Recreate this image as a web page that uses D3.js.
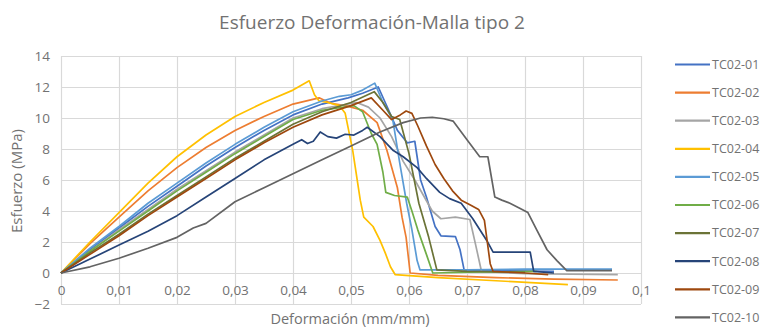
<!DOCTYPE html>
<html>
<head>
<meta charset="utf-8">
<script src="https://d3js.org/d3.v7.min.js"></script>
<style>
  html, body { margin: 0; padding: 0; background: #ffffff; }
  svg { display: block; font-family: "Open Sans", "Noto Sans", sans-serif; }
</style>
</head>
<body>
<script>
// Stress–strain curves, mesh type 2 specimens (strain mm/mm, stress MPa)
const seriesNames = ["TC02-01", "TC02-02", "TC02-03", "TC02-04", "TC02-05",
                     "TC02-06", "TC02-07", "TC02-08", "TC02-09", "TC02-10"];
const seriesColors = ["#4472C4", "#ED7D31", "#A5A5A5", "#FFC000", "#5B9BD5",
                      "#70AD47", "#6B7337", "#264478", "#9E480E", "#636363"];

const tc0201 = [[0,0],[0.005,1.5],[0.01,2.9],[0.015,4.3],[0.02,5.6],[0.025,6.9],[0.03,8.1],[0.035,9.2],[0.04,10.2],[0.045,10.9],[0.0495,11.3],[0.052,11.6],[0.0547,12.0],[0.0565,10.5],[0.058,9.2],[0.0597,8.4],[0.061,8.5],[0.062,6.0],[0.063,4.9],[0.0645,3.0],[0.0655,2.4],[0.068,2.35],[0.0688,1.5],[0.0695,0.2],[0.075,0.15],[0.085,0.1]];
const tc0202 = [[0,0],[0.005,1.9],[0.01,3.6],[0.015,5.3],[0.02,6.8],[0.025,8.1],[0.03,9.2],[0.035,10.1],[0.04,10.9],[0.0445,11.3],[0.0465,10.95],[0.049,10.8],[0.052,10.5],[0.0545,9.7],[0.0562,7.9],[0.058,5.5],[0.0588,3.6],[0.0595,2.3],[0.0602,0.0],[0.065,-0.15],[0.075,-0.3],[0.085,-0.4],[0.096,-0.45]];
const tc0203 = [[0,0],[0.005,1.4],[0.01,2.8],[0.015,4.1],[0.02,5.4],[0.025,6.6],[0.03,7.8],[0.035,8.9],[0.04,10.0],[0.045,10.6],[0.051,11.0],[0.053,10.7],[0.055,10.0],[0.057,8.8],[0.059,7.2],[0.061,6.0],[0.0625,5.0],[0.064,4.0],[0.0655,3.5],[0.068,3.6],[0.0705,3.45],[0.0715,1.8],[0.0725,0.1],[0.08,-0.05],[0.096,-0.1]];
const tc0204 = [[0,0],[0.005,2.0],[0.01,3.9],[0.015,5.8],[0.02,7.5],[0.025,8.9],[0.03,10.1],[0.035,11.0],[0.04,11.8],[0.0428,12.4],[0.0437,11.5],[0.0445,11.1],[0.046,11.0],[0.048,10.8],[0.049,10.3],[0.0503,7.9],[0.0516,4.7],[0.0522,3.6],[0.0538,3.0],[0.055,2.1],[0.0559,1.3],[0.0568,0.4],[0.0576,-0.1],[0.065,-0.3],[0.075,-0.5],[0.0874,-0.75]];
const tc0205 = [[0,0],[0.005,1.6],[0.01,3.0],[0.015,4.5],[0.02,5.8],[0.025,7.1],[0.03,8.3],[0.035,9.4],[0.04,10.4],[0.045,11.1],[0.048,11.4],[0.05,11.5],[0.052,11.8],[0.0541,12.25],[0.0555,11.0],[0.0572,9.9],[0.0584,7.1],[0.0596,4.5],[0.0605,2.8],[0.0614,0.8],[0.0619,0.2],[0.07,0.2],[0.08,0.25],[0.095,0.25]];
const tc0206 = [[0,0],[0.005,1.4],[0.01,2.7],[0.015,4.0],[0.02,5.3],[0.025,6.5],[0.03,7.7],[0.035,8.8],[0.04,9.9],[0.045,10.5],[0.0505,10.8],[0.052,10.4],[0.0535,9.0],[0.0545,8.3],[0.0555,6.5],[0.056,5.2],[0.0575,5.0],[0.0597,4.9],[0.0605,4.0],[0.0615,2.8],[0.063,1.2],[0.0641,0.0],[0.07,0.05],[0.082,0.1]];
const tc0207 = [[0,0],[0.005,1.3],[0.01,2.5],[0.015,3.8],[0.02,5.0],[0.025,6.2],[0.03,7.4],[0.035,8.5],[0.04,9.6],[0.045,10.4],[0.05,11.0],[0.054,11.7],[0.0555,11.0],[0.057,10.1],[0.0584,9.9],[0.06,7.7],[0.0617,4.5],[0.0634,2.3],[0.0648,0.2],[0.07,0.1],[0.08,0.05]];
const tc0208 = [[0,0],[0.005,0.9],[0.01,1.8],[0.015,2.7],[0.02,3.7],[0.025,4.9],[0.03,6.1],[0.035,7.3],[0.04,8.3],[0.0415,8.6],[0.0425,8.35],[0.0435,8.5],[0.0447,9.1],[0.046,8.8],[0.0475,8.7],[0.049,8.95],[0.0505,8.9],[0.052,9.2],[0.0528,9.4],[0.055,8.8],[0.0573,7.9],[0.059,7.5],[0.0614,6.8],[0.063,6.1],[0.0653,5.2],[0.067,4.8],[0.069,4.5],[0.071,3.5],[0.0734,2.1],[0.0745,1.35],[0.0809,1.35],[0.0815,0.1],[0.085,0.0]];
const tc0209 = [[0,0],[0.005,1.2],[0.01,2.4],[0.015,3.7],[0.02,4.9],[0.025,6.1],[0.03,7.3],[0.035,8.4],[0.04,9.4],[0.045,10.2],[0.05,10.8],[0.0535,11.3],[0.0555,10.5],[0.057,9.9],[0.0585,10.2],[0.0595,10.45],[0.0605,10.3],[0.0615,9.5],[0.063,8.2],[0.0645,7.0],[0.066,6.1],[0.0675,5.3],[0.069,4.7],[0.0705,4.4],[0.072,4.1],[0.073,3.4],[0.0735,2.0],[0.074,0.6],[0.0745,0.1],[0.08,0.0],[0.084,-0.1]];
const tc0210 = [[0,0],[0.005,0.4],[0.01,0.95],[0.015,1.6],[0.02,2.3],[0.0228,2.9],[0.025,3.2],[0.03,4.6],[0.035,5.5],[0.04,6.4],[0.045,7.3],[0.05,8.2],[0.055,9.1],[0.059,9.7],[0.062,10.0],[0.064,10.05],[0.066,9.95],[0.0676,9.8],[0.07,8.6],[0.0722,7.5],[0.0736,7.5],[0.0748,4.9],[0.076,4.7],[0.0774,4.5],[0.079,4.2],[0.0805,3.9],[0.082,2.8],[0.0838,1.5],[0.0855,0.8],[0.0872,0.15],[0.095,0.15]];

const seriesData = [tc0201, tc0202, tc0203, tc0204, tc0205, tc0206, tc0207, tc0208, tc0209, tc0210];

const xTickValues = [0, 0.01, 0.02, 0.03, 0.04, 0.05, 0.06, 0.07, 0.08, 0.09, 0.1];
const xTickLabels = ["0", "0,01", "0,02", "0,03", "0,04", "0,05", "0,06", "0,07", "0,08", "0,09", "0,1"];
const yTickValues = [-2, 0, 2, 4, 6, 8, 10, 12, 14];

const titleText = "Esfuerzo Deformación-Malla tipo 2";
const xTitleText = "Deformación (mm/mm)";
const yTitleText = "Esfuerzo (MPa)";

const W = 766, H = 331;
const plot = { left: 61, right: 641, top: 56, bottom: 304 };
const textColor = "#727272";
const gridColor = "#d9d9d9";

const svg = d3.select("body").append("svg")
  .attr("width", W).attr("height", H);

const x = d3.scaleLinear().domain([0, 0.1]).range([plot.left, plot.right]);
const y = d3.scaleLinear().domain([-2, 14]).range([plot.bottom, plot.top]);

// gridlines
const gx = svg.append("g")
  .attr("transform", `translate(0,${plot.bottom})`)
  .call(d3.axisBottom(x).tickValues(xTickValues).tickSize(-(plot.bottom - plot.top)).tickFormat(""));
const gy = svg.append("g")
  .attr("transform", `translate(${plot.left},0)`)
  .call(d3.axisLeft(y).tickValues(yTickValues).tickSize(-(plot.right - plot.left)).tickFormat(""));
[gx, gy].forEach(g => {
  g.select(".domain").remove();
  g.selectAll(".tick line").attr("stroke", gridColor).attr("stroke-width", 1.2);
});

// tick labels
const lx = svg.append("g")
  .attr("transform", `translate(0,${plot.bottom - 19})`)
  .call(d3.axisBottom(x).tickValues(xTickValues).tickSize(0).tickPadding(0)
    .tickFormat((d, i) => xTickLabels[i]));
const ly = svg.append("g")
  .attr("transform", `translate(${plot.left},0)`)
  .call(d3.axisLeft(y).tickValues(yTickValues).tickSize(0).tickPadding(11));
[lx, ly].forEach(g => {
  g.select(".domain").remove();
  g.selectAll("text").attr("fill", textColor).style("font-size", "13.5px")
    .style("font-family", "'Open Sans', sans-serif");
});

// curves
const line = d3.line().x(d => x(d[0])).y(d => y(d[1]));
svg.append("g").attr("fill", "none")
  .selectAll("path").data(seriesData).join("path")
  .attr("d", line)
  .attr("stroke", (d, i) => seriesColors[i])
  .attr("stroke-width", 1.7)
  .attr("stroke-linejoin", "round");

// titles
svg.append("text").attr("x", 372).attr("y", 29)
  .attr("text-anchor", "middle").attr("fill", textColor)
  .style("font-size", "19px").text(titleText);
svg.append("text").attr("x", 350).attr("y", 324)
  .attr("text-anchor", "middle").attr("fill", textColor)
  .style("font-size", "14.5px").text(xTitleText);
svg.append("text").attr("transform", "translate(22,181) rotate(-90)")
  .attr("text-anchor", "middle").attr("fill", textColor)
  .style("font-size", "15px").text(yTitleText);

// legend
const legend = svg.append("g").selectAll("g").data(seriesNames).join("g")
  .attr("transform", (d, i) => `translate(675,${64.5 + i * 28.1})`);
legend.append("line").attr("x1", 0).attr("x2", 35)
  .attr("stroke", (d, i) => seriesColors[i]).attr("stroke-width", 2.2);
legend.append("text").attr("x", 37).attr("dy", "0.35em")
  .attr("fill", textColor).style("font-size", "12.5px").text(d => d);
</script>
</body>
</html>
